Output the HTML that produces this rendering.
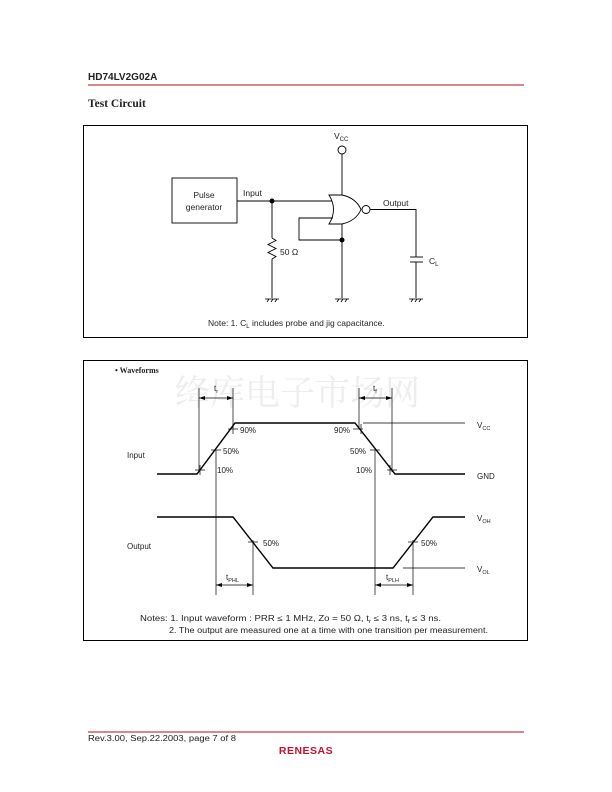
<!DOCTYPE html>
<html><head><meta charset="utf-8"><style>
html,body{margin:0;padding:0;background:#fff}
svg{display:block}
text{font-family:"Liberation Sans",sans-serif;fill:#222}
</style></head><body>
<svg width="612" height="792" viewBox="0 0 612 792" xmlns="http://www.w3.org/2000/svg">
<text x="88" y="80" font-size="10" font-weight="bold">HD74LV2G02A</text>
<line x1="88" y1="85" x2="524" y2="85" stroke="#b0101a" stroke-width="1"/>
<text x="88" y="107" font-size="11.5" font-weight="bold" style="font-family:'Liberation Serif',serif">Test Circuit</text>

<rect x="83.5" y="125.5" width="444" height="212" fill="none" stroke="#000" stroke-width="1"/>
<g stroke="#000" stroke-width="0.9" fill="none">
<rect x="172" y="178" width="65" height="45"/>
<line x1="237" y1="201" x2="332" y2="201"/>
<line x1="272" y1="201" x2="272" y2="238"/>
<polyline points="272,238 276,240.5 268,244.5 276,248.5 268,252.5 276,256.5 272,259"/>
<line x1="272" y1="259" x2="272" y2="298"/>
<line x1="342" y1="154" x2="342" y2="196"/>
<circle cx="342" cy="150" r="4" fill="#fff"/>
<path d="M329,195 Q338,209.5 329,224 L342,224 Q356,221 361,209.5 Q356,198 342,195 Z" fill="#fff"/>
<circle cx="366" cy="209.5" r="4" fill="#fff"/>
<polyline points="333,218 299,218 299,240 342,240"/>
<line x1="342" y1="224" x2="342" y2="298"/>
<polyline points="370,209.5 416,209.5 416,257"/>
<line x1="410" y1="257" x2="423" y2="257"/>
<line x1="410" y1="262" x2="423" y2="262"/>
<line x1="416" y1="262" x2="416" y2="298"/>
</g>
<g fill="#000"><circle cx="272" cy="201" r="2.5"/><circle cx="342" cy="240" r="2.5"/></g>
<g stroke="#000" stroke-width="0.8">
<line x1="265" y1="299" x2="279" y2="299"/><line x1="267" y1="302" x2="269" y2="299"/><line x1="271" y1="302" x2="273" y2="299"/><line x1="275" y1="302" x2="277" y2="299"/>
<line x1="335" y1="299" x2="349" y2="299"/><line x1="337" y1="302" x2="339" y2="299"/><line x1="341" y1="302" x2="343" y2="299"/><line x1="345" y1="302" x2="347" y2="299"/>
<line x1="409" y1="299" x2="423" y2="299"/><line x1="411" y1="302" x2="413" y2="299"/><line x1="415" y1="302" x2="417" y2="299"/><line x1="419" y1="302" x2="421" y2="299"/>
</g>
<g font-size="8.5">
<text x="204" y="198" text-anchor="middle">Pulse</text>
<text x="204" y="210" text-anchor="middle">generator</text>
<text x="243" y="196">Input</text>
<text x="280" y="255">50 Ω</text>
<text x="334" y="139">V<tspan font-size="6" dy="2">CC</tspan></text>
<text x="383" y="206">Output</text>
<text x="429" y="264">C<tspan font-size="6" dy="2">L</tspan></text>
<text x="208" y="326">Note:  1. C<tspan font-size="6" dy="2">L</tspan><tspan dy="-2"> includes probe and jig capacitance.</tspan></text>
</g>

<rect x="83.5" y="360.5" width="444" height="280" fill="none" stroke="#000" stroke-width="1"/>
<text x="115" y="373" font-size="8" font-weight="bold" style="font-family:'Liberation Serif',serif">• Waveforms</text>
<text x="175" y="405" font-size="35" style="font-family:'Noto Serif CJK SC',serif;fill:#ededed">绛库电子市场网</text>
<g stroke="#000" stroke-width="1.4" fill="none">
<polyline points="157,474 197,474 235,423 355,423 395,474 465,474"/>
<polyline points="157,517 233,517 273,568 393,568 433,517 465,517"/>
</g>
<g stroke="#000" stroke-width="0.7" fill="none">
<line x1="363" y1="423" x2="465" y2="423"/>
<line x1="403" y1="568" x2="465" y2="568"/>
<line x1="199" y1="388" x2="199" y2="472"/>
<line x1="233" y1="388" x2="233" y2="428"/>
<line x1="359" y1="388" x2="359" y2="428"/>
<line x1="392" y1="388" x2="392" y2="472"/>
<line x1="216" y1="450" x2="216" y2="595"/>
<line x1="375" y1="450" x2="375" y2="595"/>
<line x1="253" y1="540" x2="253" y2="595"/>
<line x1="413" y1="540" x2="413" y2="595"/>
<line x1="199" y1="398" x2="233" y2="398"/>
<line x1="359" y1="398" x2="392" y2="398"/>
<line x1="216" y1="585" x2="253" y2="585"/>
<line x1="375" y1="585" x2="413" y2="585"/>
<line x1="195" y1="470" x2="205" y2="470"/><line x1="211" y1="450" x2="221" y2="450"/><line x1="228" y1="429" x2="238" y2="429"/>
<line x1="353" y1="429" x2="363" y2="429"/><line x1="370" y1="450" x2="380" y2="450"/><line x1="387" y1="470" x2="397" y2="470"/>
<line x1="248" y1="542" x2="258" y2="542"/><line x1="408" y1="542" x2="418" y2="542"/>
<line x1="233" y1="424" x2="233" y2="434"/><line x1="361" y1="424" x2="361" y2="434"/>
<line x1="200" y1="465" x2="200" y2="475"/><line x1="390" y1="465" x2="390" y2="475"/>
</g>
<g fill="#000">
<path d="M199,398 l6,-2 v4z"/><path d="M233,398 l-6,-2 v4z"/>
<path d="M359,398 l6,-2 v4z"/><path d="M392,398 l-6,-2 v4z"/>
<path d="M216,585 l6,-2 v4z"/><path d="M253,585 l-6,-2 v4z"/>
<path d="M375,585 l6,-2 v4z"/><path d="M413,585 l-6,-2 v4z"/>
</g>
<g font-size="8">
<text x="214" y="391">t<tspan font-size="5.5" dy="2">r</tspan></text>
<text x="373" y="391">t<tspan font-size="5.5" dy="2">f</tspan></text>
<text x="240" y="433">90%</text><text x="223" y="454">50%</text><text x="217" y="473">10%</text>
<text x="334" y="433">90%</text><text x="350" y="454">50%</text><text x="356" y="473">10%</text>
<text x="263" y="546">50%</text><text x="421" y="546">50%</text>
<text x="127" y="458">Input</text><text x="127" y="549">Output</text>
<text x="477" y="428">V<tspan font-size="5.5" dy="2">CC</tspan></text>
<text x="477" y="479">GND</text>
<text x="477" y="521">V<tspan font-size="5.5" dy="2">OH</tspan></text>
<text x="477" y="572">V<tspan font-size="5.5" dy="2">OL</tspan></text>
<text x="226" y="580">t<tspan font-size="5.5" dy="2">PHL</tspan></text>
<text x="386" y="580">t<tspan font-size="5.5" dy="2">PLH</tspan></text>
<text x="140" y="621" textLength="301" lengthAdjust="spacingAndGlyphs">Notes:  1.  Input waveform : PRR ≤ 1 MHz, Zo = 50 Ω, t<tspan font-size="5.5" dy="2">r</tspan><tspan dy="-2"> ≤ 3 ns, t</tspan><tspan font-size="5.5" dy="2">f</tspan><tspan dy="-2"> ≤ 3 ns.</tspan></text>
<text x="169" y="633" textLength="319" lengthAdjust="spacingAndGlyphs">2.  The output are measured one at a time with one transition per measurement.</text>
</g>

<line x1="88" y1="732" x2="524" y2="732" stroke="#b0101a" stroke-width="1"/>
<text x="88" y="741" font-size="8" textLength="148" lengthAdjust="spacingAndGlyphs">Rev.3.00,  Sep.22.2003,  page 7 of 8</text>
<text x="306" y="754" font-size="10.5" font-weight="bold" text-anchor="middle" style="fill:#c8102e;letter-spacing:0.5px">RENESAS</text>
</svg>
</body></html>
